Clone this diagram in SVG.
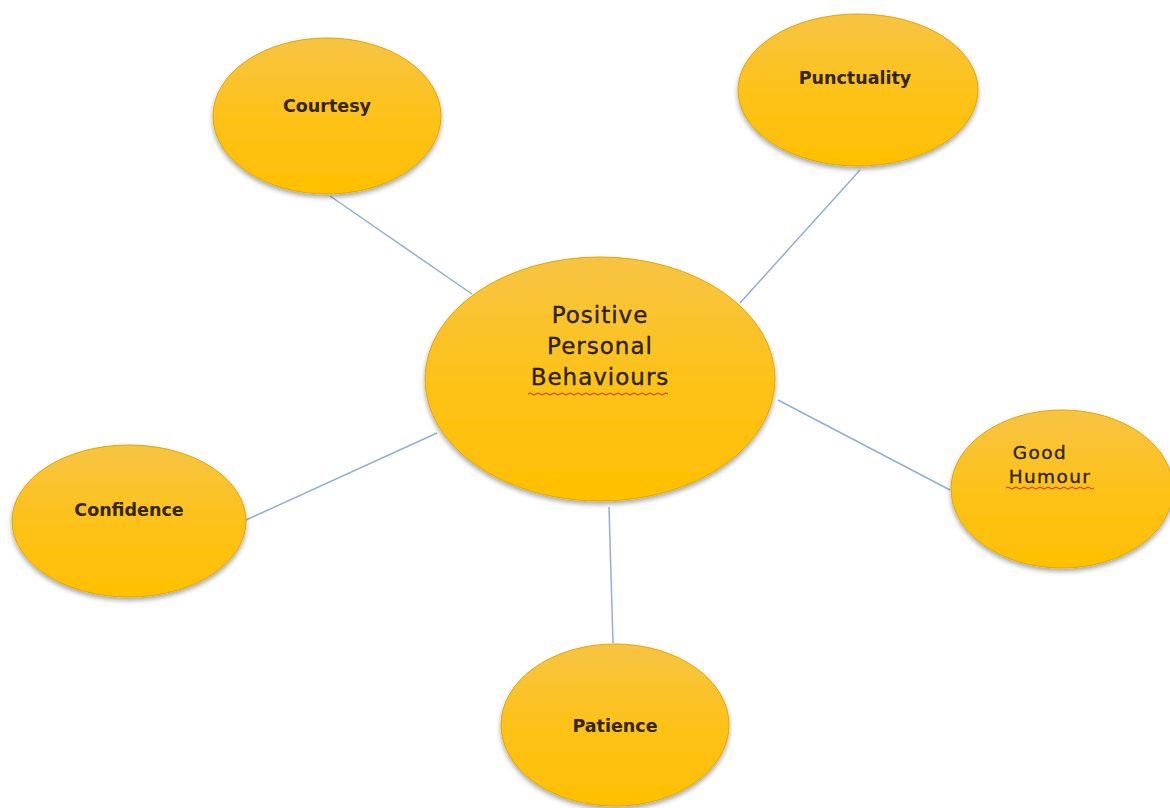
<svg xmlns="http://www.w3.org/2000/svg" width="1170" height="808" viewBox="0 0 1170 808">
<defs>
<linearGradient id="g" x1="0" y1="0" x2="0" y2="1">
<stop offset="0" stop-color="#f7c444"/>
<stop offset="0.5" stop-color="#fdc21a"/>
<stop offset="1" stop-color="#ffc000"/>
</linearGradient>
<filter id="sh" x="-10%" y="-10%" width="120%" height="125%">
<feGaussianBlur in="SourceAlpha" stdDeviation="2.5"/>
<feOffset dx="0" dy="3" result="b"/>
<feComponentTransfer><feFuncA type="linear" slope="0.35"/></feComponentTransfer>
<feMerge><feMergeNode/><feMergeNode in="SourceGraphic"/></feMerge>
</filter>
<style>
.n{fill:url(#g);stroke:#e0a800;stroke-width:1;filter:url(#sh)}
.t{font-family:"DejaVu Sans",Verdana,sans-serif;font-weight:bold;font-size:17.5px;fill:#33250a;text-anchor:middle}
.c{font-family:"DejaVu Sans",Verdana,sans-serif;font-size:23px;letter-spacing:1px;fill:#2a1f00;stroke:#2a1f00;stroke-width:0.35;text-anchor:middle}
.h{font-family:"DejaVu Sans",Verdana,sans-serif;font-size:18.5px;letter-spacing:1.4px;fill:#2a1f00;stroke:#2a1f00;stroke-width:0.3;text-anchor:middle}
.l{stroke:#8fb0d4;stroke-width:1.5;fill:none}
.w{stroke:#e02020;stroke-width:1;fill:none}
</style>
</defs>
<rect width="1170" height="808" fill="#ffffff"/>
<g id="connectors">
<line class="l" x1="330" y1="196" x2="472" y2="294"/>
<line class="l" x1="860" y1="170" x2="740" y2="303"/>
<line class="l" x1="778" y1="400" x2="950" y2="490"/>
<line class="l" x1="246" y1="520" x2="437" y2="433"/>
<line class="l" x1="609" y1="507" x2="613" y2="643"/>
</g>
<g id="courtesy">
<ellipse class="n" cx="327" cy="116" rx="114" ry="78"/>
<text class="t" x="327" y="112">Courtesy</text>
</g>
<g id="punctuality">
<ellipse class="n" cx="858" cy="90" rx="120" ry="76"/>
<text class="t" x="855" y="84">Punctuality</text>
</g>
<g id="center">
<ellipse class="n" cx="600" cy="379" rx="175" ry="122"/>
<text class="c" x="600" y="323">Positive</text>
<text class="c" x="600" y="354">Personal</text>
<text class="c" x="600" y="385">Behaviours</text>
<path class="w" d="M528 394 q2 -2 4 0 t4 0 t4 0 t4 0 t4 0 t4 0 t4 0 t4 0 t4 0 t4 0 t4 0 t4 0 t4 0 t4 0 t4 0 t4 0 t4 0 t4 0 t4 0 t4 0 t4 0 t4 0 t4 0 t4 0 t4 0 t4 0 t4 0 t4 0 t4 0 t4 0 t4 0 t4 0 t4 0 t4 0 t4 0"/>
</g>
<g id="good-humour">
<ellipse class="n" cx="1062" cy="489" rx="111" ry="79"/>
<text class="h" x="1040" y="459">Good</text>
<text class="h" x="1050" y="483">Humour</text>
<path class="w" d="M1006 488 q2 -2 4 0 t4 0 t4 0 t4 0 t4 0 t4 0 t4 0 t4 0 t4 0 t4 0 t4 0 t4 0 t4 0 t4 0 t4 0 t4 0 t4 0 t4 0 t4 0 t4 0 t4 0 t4 0"/>
</g>
<g id="confidence">
<ellipse class="n" cx="129" cy="521" rx="117" ry="76"/>
<text class="t" x="129" y="516">Confidence</text>
</g>
<g id="patience">
<ellipse class="n" cx="615" cy="725" rx="114" ry="81"/>
<text class="t" x="615" y="732">Patience</text>
</g>
</svg>
